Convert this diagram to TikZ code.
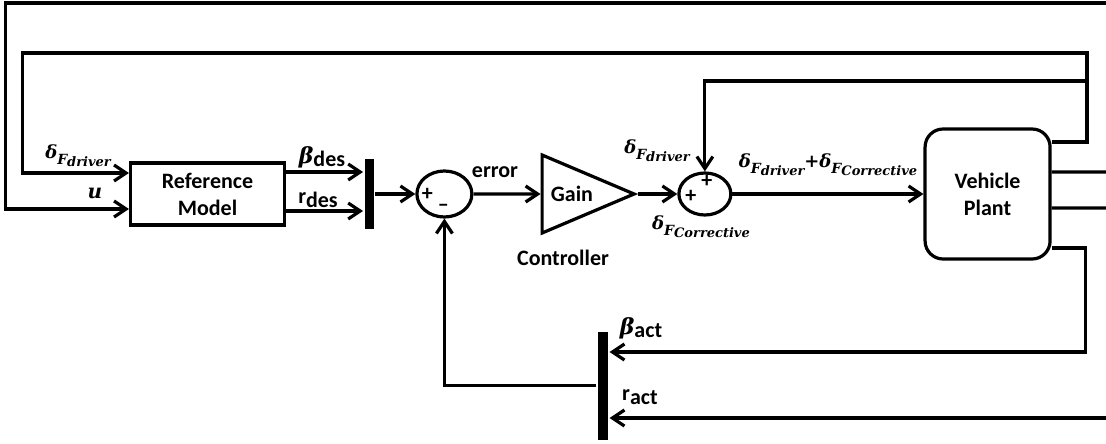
\documentclass[tikz,border=0pt]{standalone}
\usepackage{fontspec}
\setmainfont{Carlito}
\newfontfamily\lblfont{DejaVu Serif}
\usetikzlibrary{arrows.meta,positioning,shapes.geometric}
\newcommand{\greekbi}[1]{{\lblfont\bfseries\itshape #1}}
\newcommand{\dF}[1]{{\lblfont\bfseries\itshape\fontsize{18}{20}\selectfont δ\raisebox{-6pt}{\fontsize{14}{16}\selectfont F\raisebox{-2pt}{\fontsize{13}{15}\selectfont #1}}}}

\begin{document}
\begin{tikzpicture}[
  x=1pt, y=-1pt, line width=3.2pt,
  >={Straight Barb[length=12pt,width=16pt]},
  blk/.style={draw,inner sep=0pt,align=center,font=\bfseries\fontsize{22}{27}\selectfont},
  bar/.style={fill=black,draw=none,inner sep=0pt,minimum width=9pt},
  sumnode/.style={draw,ellipse,inner sep=0pt},
  txt/.style={font=\bfseries\fontsize{22}{24}\selectfont,inner sep=0pt},
  mlbl/.style={inner sep=0pt}]
  \useasboundingbox (0,0) rectangle (1106,444);
  \node[blk,minimum width=154pt,minimum height=62pt] (refmodel) at (207.5,194) {Reference\\Model};
  \node[bar,minimum height=70pt,right=77pt of refmodel] (mux1) {};
  \node[sumnode,minimum width=55pt,minimum height=46pt,right=40pt of mux1] (sum1) {};
  \node[blk,isosceles triangle,isosceles triangle stretches,shape border rotate=0,
    minimum width=78pt,minimum height=92pt,right=67pt of sum1] (gain) {Gain};
  \node[sumnode,minimum width=52pt,minimum height=42pt,right=39pt of gain] (sum2) {};
  \node[blk,rounded corners=18pt,minimum width=125pt,minimum height=130pt,right=191pt of sum2] (plant) {Vehicle\\Plant};
  \node[bar,minimum width=10pt,minimum height=108pt] (mux2) at (603,385.5) {};
  \coordinate (drvin) at ([yshift=21pt]refmodel.west);
  \coordinate (uin) at ([yshift=-15pt]refmodel.west);
  \coordinate (bdes) at ([yshift=22pt]refmodel.east);
  \coordinate (rdes) at ([yshift=-17pt]refmodel.east);
  \coordinate (bact) at ([yshift=33.5pt]mux2.east);
  \coordinate (ract) at ([yshift=-32.5pt]mux2.east);
  \coordinate (topend) at (1106,3);
  \coordinate (fbx) at (1087,53);
  \coordinate (drvtap) at (1087,81);
  \coordinate (out1) at (1106,172);
  \coordinate (out2) at (1106,208);
  \coordinate (ractin) at (1106,418);
  \draw[->] (topend) -| ([xshift=-123.5pt]uin) -- (uin);
  \draw[->] ([yshift=52pt]plant.east) -| (fbx) -| ([xshift=-106.5pt]drvin) -- (drvin);
  \draw[->] (drvtap) -| (sum2.north);
  \draw[->] (bdes) -- (bdes -| mux1.west);
  \draw[->] (rdes) -- (rdes -| mux1.west);
  \draw[->] (mux1) -- (sum1);
  \draw[->] (sum1) -- (gain);
  \draw[->] (gain.apex) -- (sum2);
  \draw[->] (sum2) -- (plant);
  \draw ([yshift=22pt]plant.east) -- (out1);
  \draw ([yshift=-14pt]plant.east) -- (out2);
  \draw[->] ([yshift=-54pt]plant.east) -- ++(33.5,0) |- (bact);
  \draw[->] (ractin) -- (ract);
  \draw[->] (mux2) -| (sum1.south);
  \node[txt] (p1) at ([xshift=-17pt]sum1.center) {+};
  \node[txt] (m1) at ([xshift=-1pt,yshift=-14pt]sum1.center) {–};
  \node[txt] (p2a) at ([xshift=-14pt,yshift=-2pt]sum2.center) {+};
  \node[txt] (p2b) at ([xshift=2pt,yshift=13pt]sum2.center) {+};
  \node[mlbl] (ldrv) at (78,156) {\dF{driver}};
  \node[mlbl] (lu) at (95,193) {\greekbi{\fontsize{20}{22}\selectfont u}};
  \node[txt] (lbdes) at (322,157) {\greekbi{β}\raisebox{-3pt}{des}};
  \node[txt] (lrdes) at (318,200) {r\raisebox{-4pt}{des}};
  \node[txt] (lerr) at (495,172) {error};
  \node[txt] (lctrl) at (563,258) {Controller};
  \node[mlbl] (ldrv2) at (657,151) {\dF{driver}};
  \node[mlbl] (lcor) at (701,227) {\dF{Corrective}};
  \node[mlbl] (lsum) at (828,165) {\dF{driver}{\lblfont\bfseries\fontsize{18}{20}\selectfont +}\dF{Corrective}};
  \node[txt] (lbact) at (641,328) {\greekbi{β}\raisebox{-3pt}{act}};
  \node[txt] (lract) at (640,397) {r\raisebox{-4pt}{act}};
\end{tikzpicture}
\end{document}
